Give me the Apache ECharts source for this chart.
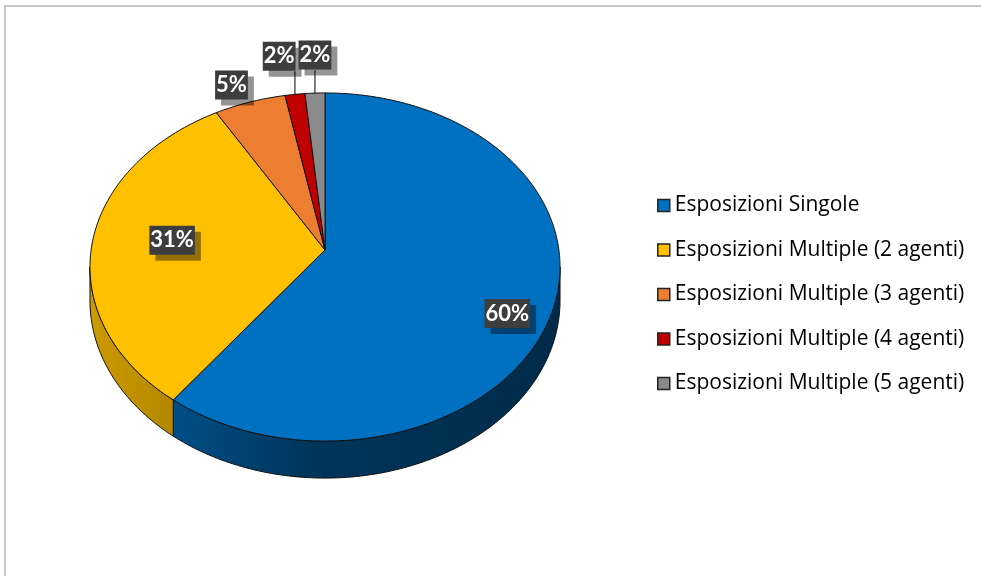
<!DOCTYPE html>
<html>
<head>
<meta charset="utf-8">
<script src="https://cdn.jsdelivr.net/npm/echarts@6/dist/echarts.min.js"></script>
<style>
html,body{margin:0;padding:0;background:#fff;overflow:hidden;}
#chart{width:981px;height:576px;}
</style>
</head>
<body>
<div id="chart"></div>
<script>
// ---- data (shares; labels show them rounded) ----
const categories = [
  'Esposizioni Singole',
  'Esposizioni Multiple (2 agenti)',
  'Esposizioni Multiple (3 agenti)',
  'Esposizioni Multiple (4 agenti)',
  'Esposizioni Multiple (5 agenti)'
];
const values = [60.2, 31.4, 5.4, 1.5, 1.5];
const colors = ['#0070C0', '#FFC000', '#ED7D31', '#C00000', '#8A8A8A'];

// ---- layout: tilted pie with mild perspective ----
const CX = 325, CY = 250, UX = 233.9, UY = 172.4, K = 0.0977, DEPTH = 33.4;
const total = values.reduce((a, b) => a + b, 0);

function proj(a, f, dy) {
  f = f == null ? 1 : f;
  const d = 1 + K * f * Math.cos(a);
  return [CX + UX * f * Math.sin(a) / d, CY - UY * f * Math.cos(a) / d + (dy || 0) / d];
}
function arc(a0, a1, dy) {
  const n = Math.max(2, Math.ceil((a1 - a0) / (Math.PI / 180)));
  const out = [];
  for (let k = 0; k <= n; k++) out.push(proj(a0 + (a1 - a0) * k / n, 1, dy));
  return out;
}
function shade(hex, f) {
  const n = parseInt(hex.slice(1), 16);
  const r = Math.round(((n >> 16) & 255) * f), g = Math.round(((n >> 8) & 255) * f), b = Math.round((n & 255) * f);
  return 'rgb(' + r + ',' + g + ',' + b + ')';
}

// angles (clockwise from 12 o'clock)
const angles = [];
let acc = 0;
values.forEach(v => { const a0 = acc / total * 2 * Math.PI; acc += v; angles.push([a0, acc / total * 2 * Math.PI]); });

// label layout
const LABEL_FONT = 'bold 22px Lato';
const PAD = [4, 1, 3, 1];
const LABEL_H = 22 + PAD[0] + PAD[2] + 1;
const mctx = document.createElement('canvas').getContext('2d');
mctx.font = LABEL_FONT;
function labelText(v) { return Math.round(v / total * 100) + '%'; }
function labelWidth(t) { return mctx.measureText(t).width + PAD[1] + PAD[3]; }

const labels = [];
values.forEach((v, i) => {
  const [a0, a1] = angles[i];
  const mid = (a0 + a1) / 2;
  const frac = v / total;
  const t = labelText(v);
  const w = labelWidth(t);
  if (frac >= 0.1) {
    const p = proj(mid, 0.5 + 0.5 * frac);
    labels[i] = { t, w, x: p[0], y: p[1] - 60 * Math.cos(mid), leader: null, tiny: false };
  } else if (frac >= 0.03) {
    const anc = proj(mid, 1);
    const sx = Math.sin(mid) < 0 ? -1 : 1, sy = Math.cos(mid) > 0 ? -1 : 1;
    labels[i] = { t, w, x: anc[0] + sx * (w / 2 + 2), y: anc[1] + sy * (LABEL_H / 2 + 2), leader: null, tiny: false };
  } else {
    const anc = proj(mid, 1);
    labels[i] = { t, w, x: anc[0], y: anc[1] - 23 - LABEL_H / 2, anc, tiny: true };
  }
});
// resolve overlaps of tiny labels: place from the last slice backwards
let prevLeft = Infinity;
for (let i = labels.length - 1; i >= 0; i--) {
  const L = labels[i];
  if (!L.tiny) continue;
  if (L.x + L.w / 2 > prevLeft - 3) L.x = prevLeft - 3 - L.w / 2;
  prevLeft = L.x - L.w / 2;
  L.leader = [L.anc[0], L.anc[1], L.anc[0], L.y + LABEL_H / 2];
}

const SIDE_R = Math.PI / 2 + Math.asin(K), SIDE_L = Math.PI * 1.5 - Math.asin(K);

const chart = echarts.init(document.getElementById('chart'), null, { renderer: 'canvas' });

const series = categories.map((name, i) => ({
  type: 'custom',
  name: name,
  coordinateSystem: 'none',
  itemStyle: { color: colors[i] },
  data: [[values[i]]],
  renderItem: function (params, api) {
    const [a0, a1] = angles[i];
    const children = [];
    const s0 = Math.max(a0, SIDE_R), s1 = Math.min(a1, SIDE_L);
    if (s1 > s0) {
      const top = arc(s0, s1, 0);
      const bot = arc(s0, s1, DEPTH).reverse();
      children.push({
        type: 'polygon', z2: 1,
        shape: { points: top.concat(bot) },
        style: {
          fill: new echarts.graphic.LinearGradient(CX - UX, 0, CX + UX, 0, [
            { offset: 0, color: shade(colors[i], 0.8) },
            { offset: 0.2, color: shade(colors[i], 0.69) },
            { offset: 0.45, color: shade(colors[i], 0.48) },
            { offset: 1, color: shade(colors[i], 0.38) }
          ], true),
          stroke: '#111', lineWidth: 1
        }
      });
    }
    children.push({
      type: 'polygon', z2: 2,
      shape: { points: [[CX, CY]].concat(arc(a0, a1, 0)) },
      style: { fill: colors[i], stroke: '#111', lineWidth: 1 }
    });
    const L = labels[i];
    if (L.leader) {
      children.push({
        type: 'line', z2: 99,
        shape: { x1: L.leader[0], y1: L.leader[1], x2: L.leader[2], y2: L.leader[3] },
        style: { stroke: '#000', lineWidth: 1 }
      });
    }
    children.push({
      type: 'text', z2: 100,
      x: L.x, y: L.y,
      style: {
        text: L.t, fill: '#fff', font: LABEL_FONT,
        align: 'center', verticalAlign: 'middle',
        backgroundColor: '#3d3d3d', padding: PAD,
        shadowColor: 'rgba(0,0,0,0.42)', shadowOffsetX: 6, shadowOffsetY: 6, shadowBlur: 0
      }
    });
    return { type: 'group', children: children };
  }
}));

chart.setOption({
  animation: false,
  backgroundColor: '#fff',
  graphic: [{
    type: 'polyline', silent: true,
    shape: { points: [[5, 576], [5, 6], [981, 6]] },
    style: { fill: 'none', stroke: '#c8c8c8', lineWidth: 2 }
  }],
  legend: {
    orient: 'vertical',
    left: 652, top: 190,
    icon: 'rect',
    itemWidth: 12, itemHeight: 12,
    itemGap: 23.5,
    data: categories,
    itemStyle: { borderColor: '#222', borderWidth: 1.5 },
    textStyle: { fontFamily: 'Open Sans', fontSize: 21, color: '#000', lineHeight: 20 }
  },
  series: series
});
</script>
</body>
</html>
